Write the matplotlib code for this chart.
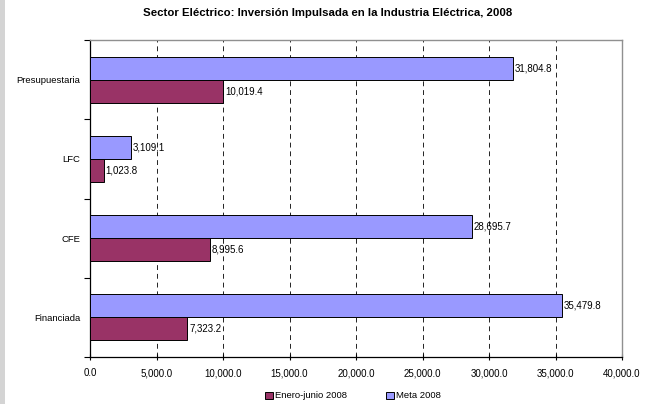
import matplotlib
matplotlib.use("Agg")
import matplotlib.pyplot as plt
from matplotlib.patches import Rectangle
import numpy as np

plt.rcParams['font.family'] = ['Liberation Sans', 'DejaVu Sans']

categories = ["Financiada", "CFE", "LFC", "Presupuestaria"]
enero_junio = [7323.2, 8995.6, 1023.8, 10019.4]
meta = [35479.8, 28695.7, 3109.1, 31804.8]
xticks = [0, 5000, 10000, 15000, 20000, 25000, 30000, 35000, 40000]

fig = plt.figure(figsize=(6.46, 4.04), dpi=100)
fig.patches.append(Rectangle((0, 0), 5/646, 1, transform=fig.transFigure,
                             facecolor="#d4d4d4", edgecolor="none", zorder=0))
ax = fig.add_axes([90/646, 1 - 357/404, (622-90)/646, (357-40)/404])

y = np.arange(len(categories))
h = 0.29
ax.barh(y - h/2, enero_junio, height=h, color="#993366", edgecolor="black",
        linewidth=0.7, label="Enero-junio 2008", zorder=3)
ax.barh(y + h/2, meta, height=h, color="#9999FF", edgecolor="black",
        linewidth=0.7, label="Meta 2008", zorder=3)

for yi, v in zip(y, enero_junio):
    ax.text(v + 120, yi - h/2, f"{v:,.1f}", va="center", ha="left", fontsize=7, zorder=4)
for yi, v in zip(y, meta):
    ax.text(v + 120, yi + h/2, f"{v:,.1f}", va="center", ha="left", fontsize=7, zorder=4)

ax.set_xlim(0, 40000)
ax.set_ylim(-0.5, len(categories) - 0.5)
ax.set_xticks(xticks)
ax.set_xticklabels([f"{t:,.1f}" for t in xticks], fontsize=7)
ax.xaxis.grid(True, color="#222222", linestyle=(0, (5, 4)), linewidth=0.7, zorder=1)

ax.set_yticks(y)
ax.set_yticklabels(categories, fontsize=6.8)
ax.tick_params(axis='y', length=0, pad=7)
ax.set_yticks(np.arange(-0.5, len(categories), 1.0), minor=True)
ax.tick_params(axis='y', which='minor', length=4, width=0.8, direction='out')
ax.tick_params(axis='x', length=4, width=0.8, direction='inout', pad=6)

for s in ['top', 'right']:
    ax.spines[s].set_color("#909090")
    ax.spines[s].set_linewidth(1.0)
for s in ['left', 'bottom']:
    ax.spines[s].set_color("black")
    ax.spines[s].set_linewidth(0.9)

fig.text(328/646, 1 - 13/404, "Sector Eléctrico: Inversión Impulsada en la Industria Eléctrica, 2008",
         ha="center", va="center", fontsize=8.2, fontweight="bold")

fig.legend(loc="center", bbox_to_anchor=(353/646, 1 - 396/404), ncol=2, frameon=False,
           fontsize=6.8, handlelength=0.8, handleheight=0.8, handletextpad=0.2,
           columnspacing=4.2)

fig.savefig("out.png", dpi=100)
